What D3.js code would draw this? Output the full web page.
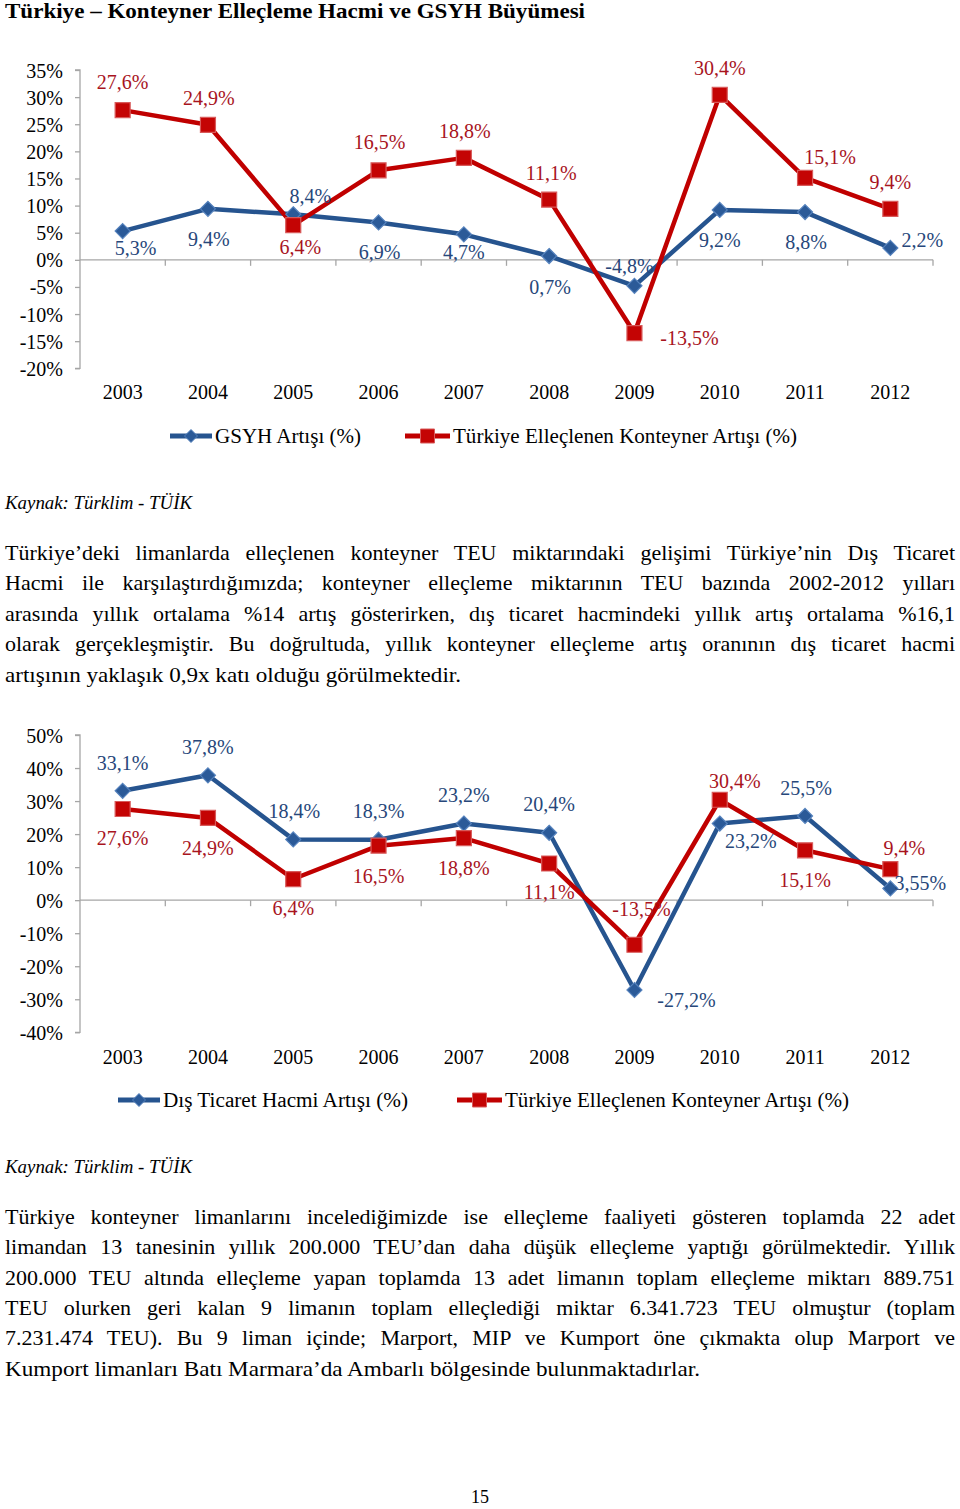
<!DOCTYPE html>
<html><head><meta charset="utf-8">
<script src="https://cdn.jsdelivr.net/npm/d3@7/dist/d3.min.js"></script>
<style>
html,body{margin:0;padding:0;background:#fff;}
svg{display:block;font-family:"Liberation Serif","Times New Roman",serif;}
</style></head>
<body>
<svg id="page" width="960" height="1509"></svg>
<script>
// ---------- DATA ----------
const years = ["2003","2004","2005","2006","2007","2008","2009","2010","2011","2012"];
const gsyhGrowth = [5.3, 9.4, 8.4, 6.9, 4.7, 0.7, -4.8, 9.2, 8.8, 2.2];
const containerGrowth = [27.6, 24.9, 6.4, 16.5, 18.8, 11.1, -13.5, 30.4, 15.1, 9.4];
const tradeGrowth = [33.1, 37.8, 18.4, 18.3, 23.2, 20.4, -27.2, 23.2, 25.5, 3.55];
const chart1Ticks = [35, 30, 25, 20, 15, 10, 5, 0, -5, -10, -15, -20];
const chart2Ticks = [50, 40, 30, 20, 10, 0, -10, -20, -30, -40];
const gsyhLabels = ["5,3%","9,4%","8,4%","6,9%","4,7%","0,7%","-4,8%","9,2%","8,8%","2,2%"];
const containerLabels = ["27,6%","24,9%","6,4%","16,5%","18,8%","11,1%","-13,5%","30,4%","15,1%","9,4%"];
const tradeLabels = ["33,1%","37,8%","18,4%","18,3%","23,2%","20,4%","-27,2%","23,2%","25,5%","3,55%"];

const titleText = "Türkiye – Konteyner Elleçleme Hacmi ve GSYH Büyümesi";
const sourceText = "Kaynak: Türklim - TÜİK";
const para1 = [
 "Türkiye’deki limanlarda elleçlenen konteyner TEU miktarındaki gelişimi Türkiye’nin Dış Ticaret",
 "Hacmi ile karşılaştırdığımızda; konteyner elleçleme miktarının TEU bazında 2002-2012 yılları",
 "arasında yıllık ortalama %14 artış gösterirken, dış ticaret hacmindeki yıllık artış ortalama %16,1",
 "olarak gerçekleşmiştir. Bu doğrultuda, yıllık konteyner elleçleme artış oranının dış ticaret hacmi",
 "artışının yaklaşık 0,9x katı olduğu görülmektedir."
];
const para2 = [
 "Türkiye konteyner limanlarını incelediğimizde ise elleçleme faaliyeti gösteren toplamda 22 adet",
 "limandan 13 tanesinin yıllık 200.000 TEU’dan daha düşük elleçleme yaptığı görülmektedir. Yıllık",
 "200.000 TEU altında elleçleme yapan toplamda 13 adet limanın toplam elleçleme miktarı 889.751",
 "TEU olurken geri kalan 9 limanın toplam elleçlediği miktar 6.341.723 TEU olmuştur (toplam",
 "7.231.474 TEU). Bu 9 liman içinde; Marport, MIP ve Kumport öne çıkmakta olup Marport ve",
 "Kumport limanları Batı Marmara’da Ambarlı bölgesinde bulunmaktadırlar."
];

// ---------- STYLE / LAYOUT ----------
const BLUE_LINE = "#26548f", BLUE_FILL = "#2b5a98", BLUE_EDGE = "#5582bd", BLUE_TEXT = "#27477a";
const RED_LINE = "#c00000", RED_FILL = "#c40404", RED_EDGE = "#d85a5a", RED_TEXT = "#a8141e";
const AXIS = "#a6a6a6";

// label offsets (text centre relative to point)
const off1Blue = [[13,17],[1,30],[17,-18],[1,30],[0,18],[1,31],[-5,-20],[0,30],[1,30],[32,-8]];
const off1Red  = [[0,-28],[1,-27],[7,22],[1,-28],[1,-27],[2,-27],[55,5],[0,-27],[25,-21],[0,-27]];
const off2Blue = [[0,-28],[0,-28],[1,-28],[0,-29],[0,-29],[0,-29],[52,10],[31,17],[1,-28],[30,-5]];
const off2Red  = [[0,29],[0,30],[0,29],[0,30],[0,30],[0,29],[7,-36],[15,-19],[0,30],[14,-21]];

const svg = d3.select("#page");

// title
svg.append("text").attr("x",5).attr("y",18).attr("font-size",21).attr("font-weight","bold")
  .attr("textLength",580).attr("lengthAdjust","spacingAndGlyphs").text(titleText);

function diamond(s){ return `M0,${-s}L${s},0L0,${s}L${-s},0Z`; }

function drawChart(cfg){
  const g = svg.append("g");
  const x = d3.scaleBand().domain(years).range([80,933]).paddingInner(0).paddingOuter(0);
  const y = d3.scaleLinear().domain([cfg.ticks[cfg.ticks.length-1], cfg.ticks[0]]).range([cfg.yBottom, cfg.yTop]);
  const cx = d => x(d) + x.bandwidth()/2;

  // y axis
  const yAxis = d3.axisLeft(y).tickValues(cfg.ticks).tickSize(5).tickFormat(d => d + "%");
  const ya = g.append("g").attr("transform","translate(80,0)").call(yAxis);
  ya.select(".domain").attr("stroke",AXIS).attr("stroke-width",1.3).attr("d",`M-5,${cfg.yTop}H0V${cfg.yBottom}H-5`);
  ya.selectAll(".tick line").attr("stroke",AXIS).attr("stroke-width",1.3);
  ya.selectAll(".tick text").attr("font-family","Liberation Serif").attr("font-size",20).attr("fill","#000")
    .attr("x",-17).attr("dy","0.35em");

  // x axis at zero
  const xAxis = d3.axisBottom(x).tickSize(0).tickFormat("");
  const xa = g.append("g").attr("transform",`translate(0,${y(0)})`).call(xAxis);
  xa.select(".domain").attr("stroke",AXIS).attr("stroke-width",1.3).attr("d","M80,0H933");
  xa.selectAll(".tick").remove();
  const bounds = years.map(yr => x(yr) + x.bandwidth());
  xa.selectAll("line.bt").data(bounds).join("line").attr("class","bt")
    .attr("x1",d=>d).attr("x2",d=>d).attr("y1",0).attr("y2",6).attr("stroke",AXIS).attr("stroke-width",1.3);

  // year labels
  g.selectAll("text.yr").data(years).join("text").attr("class","yr")
    .attr("x",d=>cx(d)).attr("y",cfg.yearY).attr("text-anchor","middle").attr("font-size",20)
    .attr("dy","0.35em").text(d=>d);

  const line = d3.line().x((d,i)=>cx(years[i])).y(d=>y(d));
  const series = cfg.series;
  series.forEach(s=>{
    g.append("path").datum(s.values).attr("d",line).attr("fill","none").attr("stroke",s.line)
      .attr("stroke-width",4.5).attr("stroke-linejoin","round");
  });
  series.forEach(s=>{
    const m = g.selectAll(null).data(s.values).join("path")
      .attr("transform",(d,i)=>`translate(${cx(years[i])},${y(d)})`)
      .attr("fill",s.fill).attr("stroke",s.edge).attr("stroke-width",1.2);
    if (s.shape === "diamond") m.attr("d",diamond(7.5));
    else m.attr("d","M-7.5,-7.5H7.5V7.5H-7.5Z");
  });
  series.forEach(s=>{
    g.selectAll(null).data(s.values).join("text")
      .attr("x",(d,i)=>cx(years[i]) + s.offsets[i][0])
      .attr("y",(d,i)=>y(d) + s.offsets[i][1])
      .attr("dy","0.35em").attr("text-anchor","middle").attr("font-size",20).attr("fill",s.text)
      .text((d,i)=>s.labels[i]);
  });

  // legend
  cfg.legend.forEach(L=>{
    const lg = g.append("g");
    lg.append("line").attr("x1",L.x0).attr("x2",L.x1).attr("y1",cfg.legendY).attr("y2",cfg.legendY)
      .attr("stroke",L.s.line).attr("stroke-width",5);
    const mx = (L.x0+L.x1)/2;
    lg.append("path").attr("transform",`translate(${mx},${cfg.legendY})`)
      .attr("d", L.s.shape==="diamond" ? diamond(6.5) : "M-7,-7H7V7H-7Z")
      .attr("fill",L.s.fill).attr("stroke",L.s.edge).attr("stroke-width",1);
    lg.append("text").attr("x",L.x1+3).attr("y",cfg.legendY).attr("dy","0.35em").attr("font-size",20)
      .attr("textLength",L.w).attr("lengthAdjust","spacingAndGlyphs").text(L.label);
  });
}

const sGsyh = {values:gsyhGrowth, labels:gsyhLabels, offsets:off1Blue, line:BLUE_LINE, fill:BLUE_FILL, edge:BLUE_EDGE, text:BLUE_TEXT, shape:"diamond"};
const sCont1 = {values:containerGrowth, labels:containerLabels, offsets:off1Red, line:RED_LINE, fill:RED_FILL, edge:RED_EDGE, text:RED_TEXT, shape:"square"};
const sTrade = {values:tradeGrowth, labels:tradeLabels, offsets:off2Blue, line:BLUE_LINE, fill:BLUE_FILL, edge:BLUE_EDGE, text:BLUE_TEXT, shape:"diamond"};
const sCont2 = {values:containerGrowth, labels:containerLabels, offsets:off2Red, line:RED_LINE, fill:RED_FILL, edge:RED_EDGE, text:RED_TEXT, shape:"square"};

drawChart({ticks:chart1Ticks, yTop:70, yBottom:368.3, yearY:392, legendY:436,
  series:[sGsyh, sCont1],
  legend:[{x0:170,x1:212,s:sGsyh,label:"GSYH Artışı (%)",w:146},
          {x0:405,x1:450,s:sCont1,label:"Türkiye Elleçlenen Konteyner Artışı (%)",w:344}]});

drawChart({ticks:chart2Ticks, yTop:735, yBottom:1032.3, yearY:1057, legendY:1100,
  series:[sTrade, sCont2],
  legend:[{x0:118,x1:160,s:sTrade,label:"Dış Ticaret Hacmi Artışı (%)",w:245},
          {x0:457,x1:502,s:sCont2,label:"Türkiye Elleçlenen Konteyner Artışı (%)",w:344}]});

// source lines
[503, 1167].forEach(yy=>{
  svg.append("text").attr("x",5).attr("y",yy).attr("dy","0.35em").attr("font-size",18)
    .attr("font-style","italic").attr("textLength",187).attr("lengthAdjust","spacingAndGlyphs").text(sourceText);
});

// paragraphs (justified)
function paragraph(lines, y0, step, lastWidth){
  lines.forEach((t,i)=>{
    const el = svg.append("text").attr("x",5).attr("y",y0+i*step).attr("dy","0.35em").attr("font-size",22).text(t);
    const w = el.node().getComputedTextLength();
    const last = i === lines.length-1;
    const target = last ? lastWidth : 950;
    if (!last){
      const spaces = (t.match(/ /g)||[]).length;
      const extra = (target - w)/spaces;
      if (extra >= 0) el.attr("word-spacing", extra);
      else el.attr("textLength",target).attr("lengthAdjust","spacingAndGlyphs");
    } else {
      el.attr("textLength",target).attr("lengthAdjust","spacingAndGlyphs");
    }
  });
}
paragraph(para1, 552, 30.5, 456);
paragraph(para2, 1216, 30.4, 695);

svg.append("text").attr("x",480).attr("y",1497).attr("dy","0.35em").attr("text-anchor","middle").attr("font-size",18).text("15");
</script>
</body></html>
